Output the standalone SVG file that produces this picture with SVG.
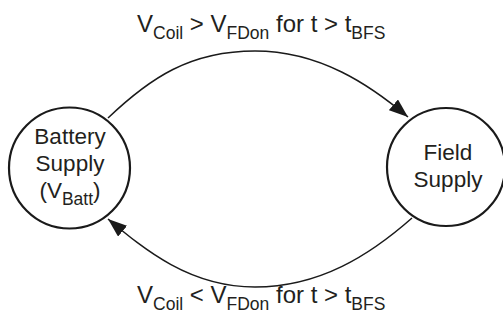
<svg xmlns="http://www.w3.org/2000/svg" width="503" height="320" viewBox="0 0 503 320">
  <style>
    .state { fill: #ffffff; stroke: #1a1a1a; stroke-width: 2.2; }
    .txt { font-family: "Liberation Sans", Arial, sans-serif; font-size: 22.5px; fill: #231f20; text-anchor: middle; }
    .lbl { font-family: "Liberation Sans", Arial, sans-serif; font-size: 24px; fill: #231f20; }
    .sub { font-size: 17.5px; }
    .edge { fill: none; stroke: #1a1a1a; stroke-width: 1.5; marker-end: url(#arrow); }
  </style>
  <defs>
    <marker id="arrow" markerUnits="userSpaceOnUse" markerWidth="20" markerHeight="14" refX="19" refY="7" orient="auto">
      <path d="M0,0 L19,7 L0,14 z" fill="#1a1a1a"/>
    </marker>
  </defs>

  <g id="connectors">
    <path class="edge" d="M108,118 C150,78 190,51 255,51 C320,51 370,85 408,117"/>
    <path class="edge" d="M412,218 C370,255 320,287 255,287 C190,287 145,250 108,219"/>
  </g>

  <g id="battery-supply">
    <circle class="state" cx="69.5" cy="168" r="60.5"/>
    <text class="txt" x="70" y="144">Battery</text>
    <text class="txt" x="70" y="171">Supply</text>
    <text class="txt" x="70" y="198">(V<tspan class="sub" dy="7">Batt</tspan><tspan dy="-7">)</tspan></text>
  </g>

  <g id="field-supply">
    <circle class="state" cx="446" cy="167" r="59"/>
    <text class="txt" x="448" y="160">Field</text>
    <text class="txt" x="448" y="187">Supply</text>
  </g>

  <g id="labels">
    <text class="lbl" x="137" y="32">V<tspan class="sub" dy="7">Coil</tspan><tspan dy="-7"> &gt; V</tspan><tspan class="sub" dy="7">FDon</tspan><tspan dy="-7"> for t &gt; t</tspan><tspan class="sub" dy="7">BFS</tspan></text>
    <text class="lbl" x="137" y="303">V<tspan class="sub" dy="7">Coil</tspan><tspan dy="-7"> &lt; V</tspan><tspan class="sub" dy="7">FDon</tspan><tspan dy="-7"> for t &gt; t</tspan><tspan class="sub" dy="7">BFS</tspan></text>
  </g>
</svg>
